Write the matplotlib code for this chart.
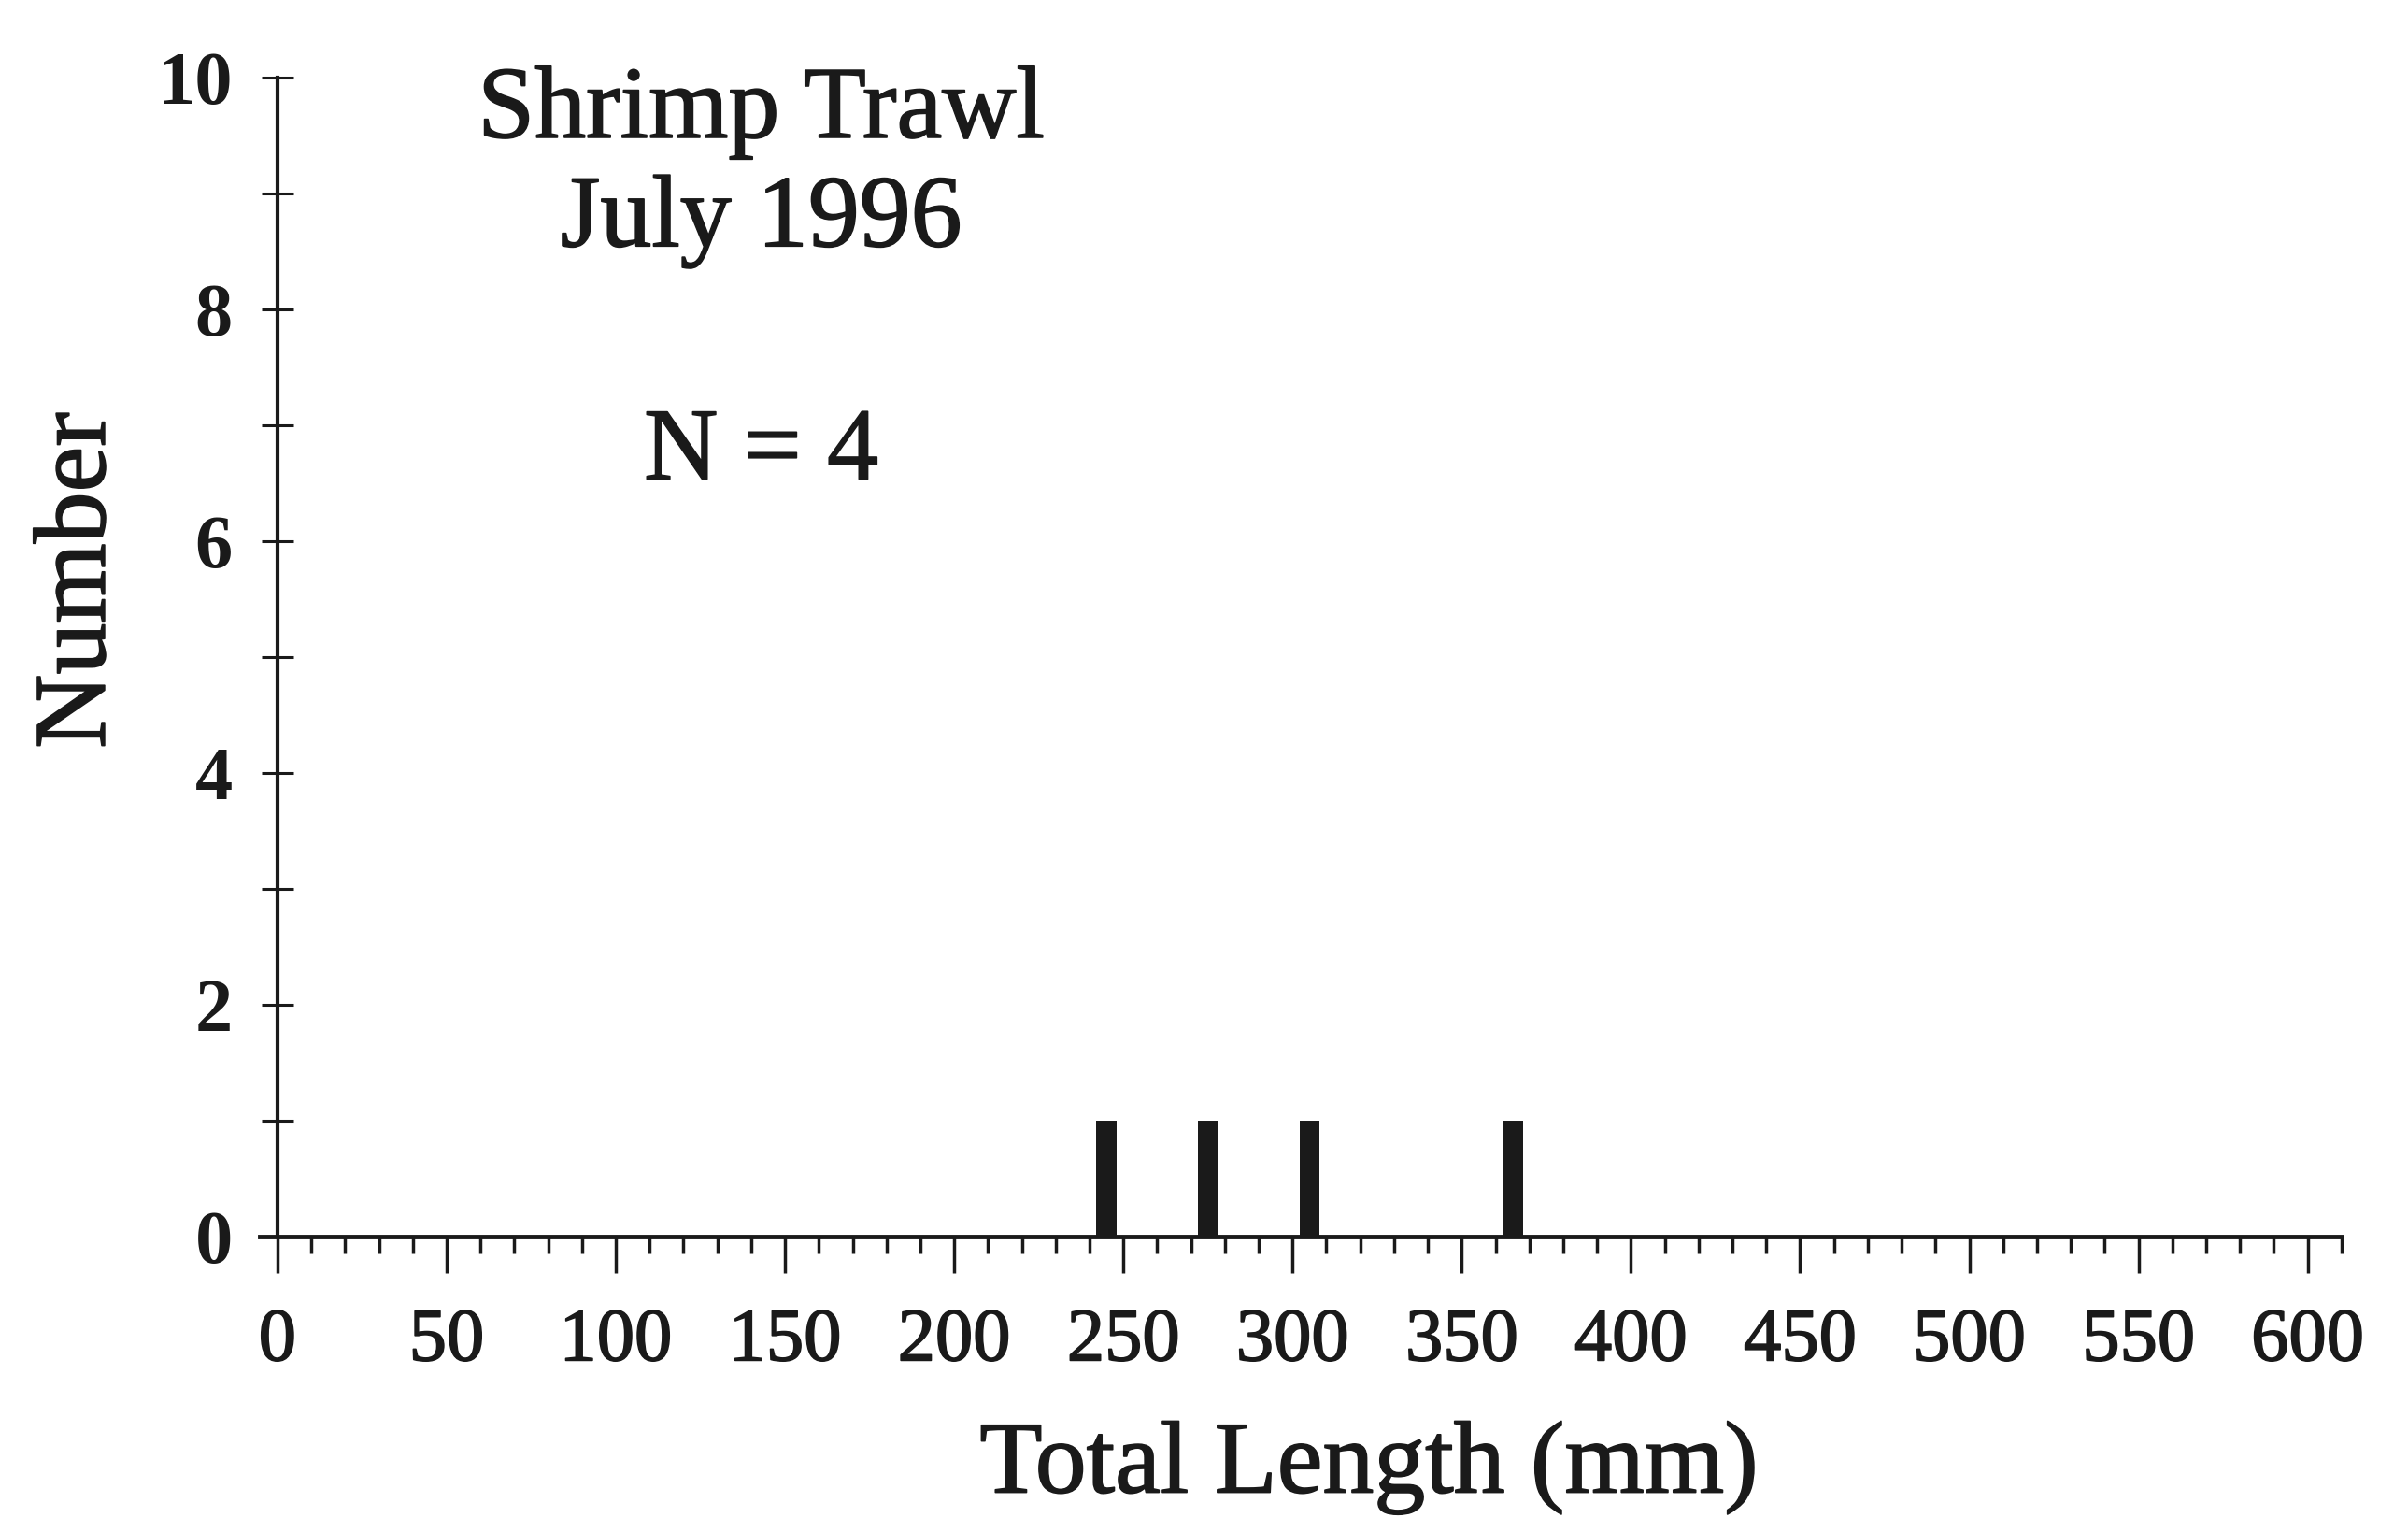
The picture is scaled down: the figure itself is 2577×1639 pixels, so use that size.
import numpy as np
import matplotlib
matplotlib.use("Agg")
import matplotlib.pyplot as plt
import matplotlib.patheffects as pe
from matplotlib.ticker import MultipleLocator

# Length classes (mm) and counts
lengths = [245, 275, 305, 365]
counts = [1, 1, 1, 1]
x_ticks = np.arange(0, 601, 50)
y_ticks = np.arange(0, 11, 2)

plt.rcParams["font.family"] = ["Liberation Serif", "DejaVu Serif"]
ink = "#1a1a1a"
thick = [pe.withStroke(linewidth=1.2, foreground=ink)]

fig = plt.figure(figsize=(25.77, 16.39), dpi=100)
ax = fig.add_axes([0.1079, 0.1928, 0.8645, 0.7568])

ax.bar(lengths, counts, width=6, color=ink, edgecolor="none")

ax.set_xlim(-5.2, 610)
ax.set_ylim(0, 10)

# axis look: only left and bottom lines, y spine at x=0
for s in ["top", "right"]:
    ax.spines[s].set_visible(False)
ax.spines["left"].set_position(("data", 0))
ax.spines["left"].set_linewidth(3)
ax.spines["bottom"].set_linewidth(3.5)
ax.spines["left"].set_color(ink)
ax.spines["bottom"].set_color(ink)

ax.set_xticks(x_ticks)
ax.set_xticklabels([str(v) for v in x_ticks])
ax.xaxis.set_minor_locator(MultipleLocator(10))
ax.set_yticks(y_ticks)
ax.set_yticklabels([str(v) for v in y_ticks], fontweight="bold")
ax.yaxis.set_minor_locator(MultipleLocator(1))

ax.tick_params(axis="x", which="major", direction="out", length=28, width=2.5,
               labelsize=58, pad=27, color=ink)
ax.tick_params(axis="x", which="minor", direction="out", length=13, width=2.5,
               color=ink)
ax.tick_params(axis="y", which="both", direction="inout", length=25, width=2.2,
               labelsize=58, pad=22, color=ink)
ax.tick_params(labelcolor=ink)
for lab in ax.get_xticklabels():
    lab.set_path_effects(thick)

ax.set_xlabel("Total Length (mm)", fontsize=79, color=ink)
ax.xaxis.set_label_coords(0.533, -0.199)
ax.xaxis.label.set_verticalalignment("center")
ax.xaxis.label.set_path_effects(thick)

ax.set_ylabel("Number", fontsize=79, color=ink)
ax.yaxis.set_label_coords(-0.0866, 0.566)
ax.yaxis.label.set_verticalalignment("center")
ax.yaxis.label.set_horizontalalignment("center")
ax.yaxis.label.set_path_effects(thick)

ax.text(143, 9.23, "Shrimp Trawl\nJuly 1996", fontsize=79, ha="center", va="center",
        linespacing=1.22, color=ink, path_effects=thick)
ax.text(143, 6.75, "N = 4", fontsize=79, ha="center", va="center", color=ink,
        path_effects=thick)

fig.savefig("out.png", dpi=100, facecolor="white")
